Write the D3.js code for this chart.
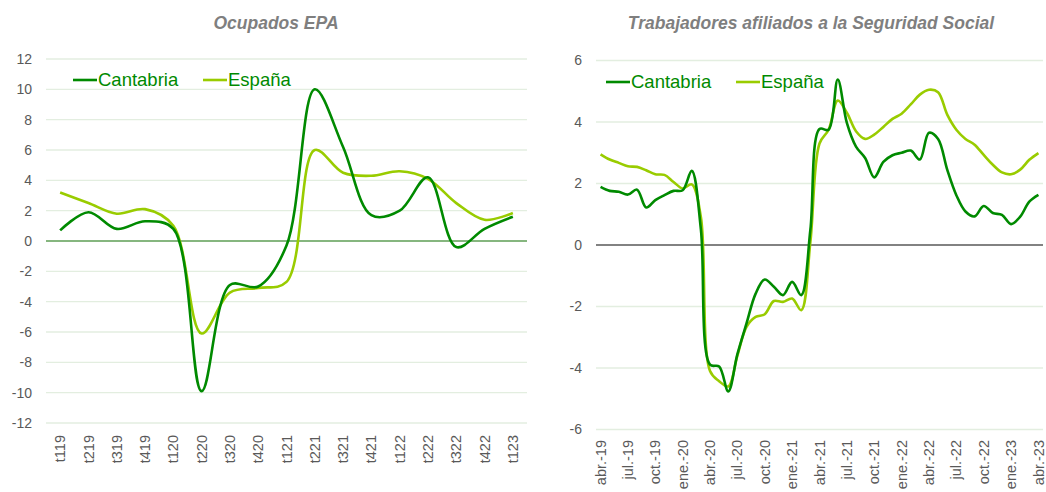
<!DOCTYPE html>
<html>
<head>
  <meta charset="utf-8">
  <script src="https://d3js.org/d3.v7.min.js"></script>
  <style>
    body { margin: 0; background: #fff; font-family: 'Liberation Sans', Arial, sans-serif; }
  </style>
</head>
<body>
  <div id="my_dataviz"></div>
  <script>
    // ---- data ----
    var quarters = ["t119","t219","t319","t419","t120","t220","t320","t420","t121",
                    "t221","t321","t421","t122","t222","t322","t422","t123"];
    var epaCantabria = [0.7, 1.9, 0.8, 1.3, 0.8, -9.9, -2.9, -3.0, -0.3,
                        10.0, 6.2, 1.7, 2.0, 4.2, -0.4, 0.8, 1.6];
    var epaEspana = [3.2, 2.5, 1.8, 2.1, 1.0, -6.1, -3.4, -3.1, -2.7,
                     6.0, 4.5, 4.3, 4.6, 4.1, 2.5, 1.4, 1.85];

    var months = ["abr.-19","may.-19","jun.-19","jul.-19","ago.-19","sep.-19","oct.-19","nov.-19","dic.-19",
                  "ene.-20","feb.-20","mar.-20","abr.-20","may.-20","jun.-20","jul.-20","ago.-20","sep.-20",
                  "oct.-20","nov.-20","dic.-20","ene.-21","feb.-21","mar.-21","abr.-21","may.-21","jun.-21",
                  "jul.-21","ago.-21","sep.-21","oct.-21","nov.-21","dic.-21","ene.-22","feb.-22","mar.-22",
                  "abr.-22","may.-22","jun.-22","jul.-22","ago.-22","sep.-22","oct.-22","nov.-22","dic.-22",
                  "ene.-23","feb.-23","mar.-23","abr.-23"];
    var monthTicks = ["abr.-19","jul.-19","oct.-19","ene.-20","abr.-20","jul.-20","oct.-20","ene.-21","abr.-21",
                      "jul.-21","oct.-21","ene.-22","abr.-22","jul.-22","oct.-22","ene.-23","abr.-23"];
    var afilCantabria = [1.89, 1.76, 1.73, 1.64, 1.8, 1.22, 1.46, 1.62, 1.76,
                         1.78, 2.41, 0.5, -3.89, -3.95, -4.76, -3.55, -2.55, -1.58,
                         -1.12, -1.36, -1.63, -1.2, -1.63, 0.5, 3.77, 3.75, 5.38,
                         3.97, 3.2, 2.83, 2.2, 2.7, 2.92, 3.0, 3.07, 2.78,
                         3.65, 3.45, 2.45, 1.62, 1.09, 0.93, 1.27, 1.04, 0.98,
                         0.68, 0.92, 1.41, 1.63];
    var afilEspana = [2.95, 2.78, 2.67, 2.56, 2.54, 2.43, 2.3, 2.28, 2.05,
                      1.84, 1.97, 0.9, -4.1, -4.43, -4.6, -3.6, -2.66, -2.34,
                      -2.25, -1.82, -1.85, -1.74, -2.12, 0.1, 3.3, 3.75, 4.7,
                      4.3, 3.7, 3.45, 3.59, 3.84, 4.1, 4.27, 4.57, 4.89,
                      5.05, 4.97, 4.24, 3.75, 3.45, 3.26, 2.93, 2.61, 2.36,
                      2.3, 2.45, 2.77, 2.99];

    var colCantabria = "#008a00";
    var colEspana = "#99cc00";

    var svg = d3.select("#my_dataviz")
      .append("svg")
      .attr("width", 1046)
      .attr("height", 492);

    function drawPanel(opt) {
      var g = svg.append("g");

      var x = d3.scaleBand()
        .domain(opt.cats)
        .range([opt.left, opt.right]);

      var y = d3.scaleLinear()
        .domain([opt.yMin, opt.yMax])
        .range([opt.bottom, opt.top]);

      var yTicks = d3.range(opt.yMin, opt.yMax + 1, 2);

      // gridlines
      g.append("g")
        .selectAll("line")
        .data(yTicks.filter(function (d) { return d !== 0; }))
        .enter()
        .append("line")
        .attr("x1", opt.left)
        .attr("x2", opt.right)
        .attr("y1", function (d) { return y(d); })
        .attr("y2", function (d) { return y(d); })
        .attr("stroke", "#e3eee0")
        .attr("stroke-width", 1.3);

      // zero line
      g.append("line")
        .attr("x1", opt.left)
        .attr("x2", opt.right)
        .attr("y1", y(0))
        .attr("y2", y(0))
        .attr("stroke", opt.zeroColor)
        .attr("stroke-width", 1.3);

      // y axis labels
      g.append("g")
        .selectAll("text")
        .data(yTicks)
        .enter()
        .append("text")
        .attr("x", opt.yLabelX)
        .attr("y", function (d) { return y(d); })
        .attr("dy", "0.35em")
        .attr("text-anchor", "end")
        .style("font-size", "14px")
        .style("fill", "#595959")
        .text(function (d) { return d; });

      // x axis labels
      g.append("g")
        .selectAll("text")
        .data(opt.tickLabels)
        .enter()
        .append("text")
        .attr("transform", function (d) {
          return "translate(" + (x(d) + x.bandwidth() / 2) + "," + opt.xLabelY + ") rotate(-90)";
        })
        .attr("dy", "0.35em")
        .attr("text-anchor", "end")
        .style("font-size", "14.5px")
        .style("fill", "#595959")
        .text(function (d) { return d; });

      // lines
      var line = d3.line()
        .x(function (d, i) { return x(opt.cats[i]) + x.bandwidth() / 2; })
        .y(function (d) { return y(d); })
        .curve(d3.curveCatmullRom.alpha(0.5));

      [[opt.espana, colEspana], [opt.cantabria, colCantabria]].forEach(function (s) {
        g.append("path")
          .datum(s[0])
          .attr("d", line)
          .attr("fill", "none")
          .attr("stroke", s[1])
          .attr("stroke-width", 2.6)
          .attr("stroke-linejoin", "round");
      });

      // title
      g.append("text")
        .attr("x", opt.titleX)
        .attr("y", 29)
        .attr("text-anchor", "middle")
        .style("font-size", "17.5px")
        .style("font-weight", "bold")
        .style("font-style", "italic")
        .style("fill", "#7f7f7f")
        .text(opt.title);

      // legend
      var leg = [["Cantabria", colCantabria, opt.legX], ["España", colEspana, opt.legX + 130]];
      leg.forEach(function (l) {
        g.append("line")
          .attr("x1", l[2])
          .attr("x2", l[2] + 24)
          .attr("y1", opt.legY)
          .attr("y2", opt.legY)
          .attr("stroke", l[1])
          .attr("stroke-width", 2.6);
        g.append("text")
          .attr("x", l[2] + 25)
          .attr("y", opt.legY)
          .attr("dy", "0.35em")
          .style("font-size", "18.5px")
          .style("fill", colCantabria)
          .text(l[0]);
      });
    }

    drawPanel({
      cats: quarters, tickLabels: quarters,
      cantabria: epaCantabria, espana: epaEspana,
      left: 46, right: 527, top: 59, bottom: 423,
      yMin: -12, yMax: 12, yLabelX: 32, xLabelY: 435,
      zeroColor: "#5e9e55",
      title: "Ocupados EPA", titleX: 276,
      legX: 73, legY: 80
    });

    drawPanel({
      cats: months, tickLabels: monthTicks,
      cantabria: afilCantabria, espana: afilEspana,
      left: 596, right: 1043, top: 60.5, bottom: 429.5,
      yMin: -6, yMax: 6, yLabelX: 582, xLabelY: 440,
      zeroColor: "#595959",
      title: "Trabajadores afiliados a la Seguridad Social", titleX: 811,
      legX: 606, legY: 82
    });
  </script>
</body>
</html>
